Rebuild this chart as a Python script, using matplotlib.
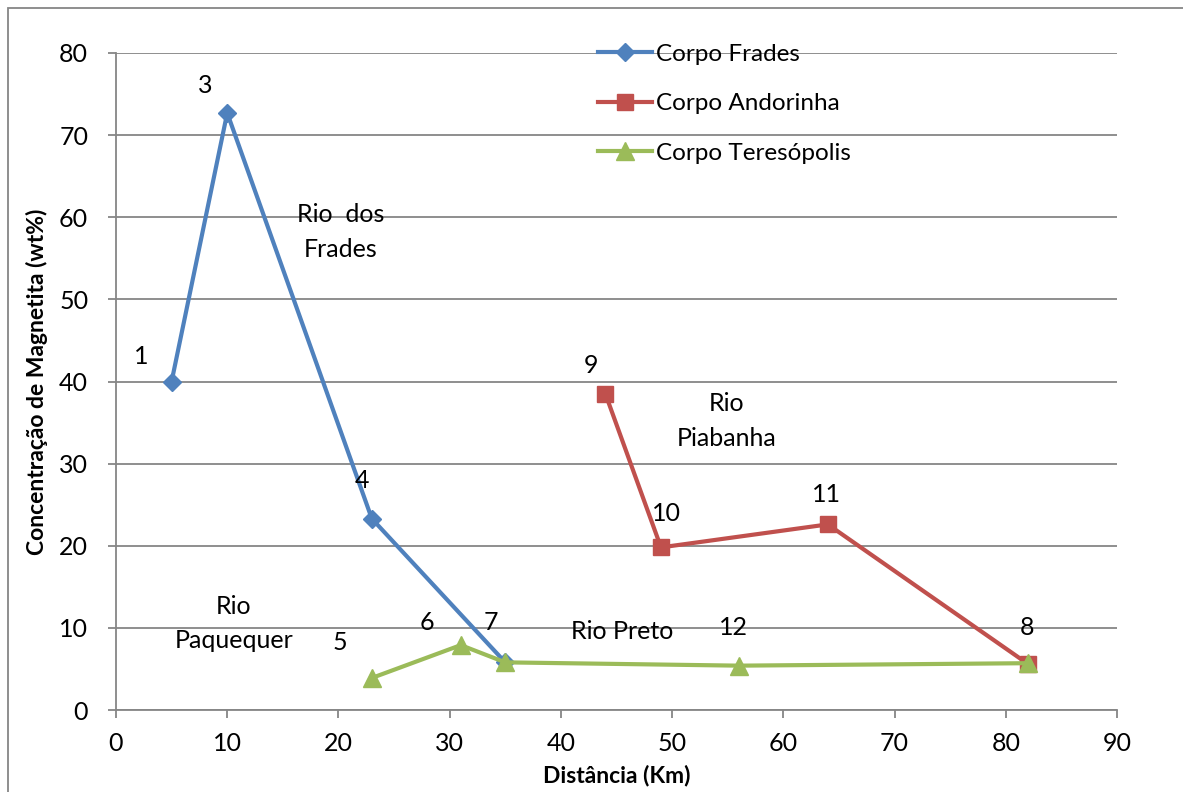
import matplotlib
matplotlib.use("Agg")
import matplotlib.pyplot as plt
from matplotlib.patches import Rectangle

plt.rcParams['font.family'] = ['Lato', 'DejaVu Sans']

frades_x = [5, 10, 23, 35]
frades_y = [40.0, 72.7, 23.3, 5.8]
andorinha_x = [44, 49, 64, 82]
andorinha_y = [38.5, 19.8, 22.6, 5.6]
teres_x = [23, 31, 35, 56, 82]
teres_y = [3.9, 7.9, 5.8, 5.4, 5.7]

point_labels = ["1", "3", "4", "5", "6", "7", "9", "10", "11", "12", "8"]
point_label_pos = [(2.25, 43.1), (8.0, 76.0), (22.1, 27.9), (20.1, 8.2), (27.95, 10.6),
                   (33.7, 10.6), (42.7, 42.0), (49.5, 23.9), (63.9, 26.3), (55.5, 10.1), (81.9, 10.1)]
river_labels = ["Rio  dos\nFrades", "Rio\nPiabanha", "Rio\nPaquequer", "Rio Preto"]
river_label_pos = [(20.2, 58.2), (54.9, 35.2), (10.6, 10.5), (45.5, 9.5)]

blue = '#4F81BD'
red = '#C0504D'
green = '#9BBB59'
gray = '#868686'

fig = plt.figure(figsize=(11.83, 7.92), dpi=100)
ax = fig.add_axes([116/1183, 1-710/792, (1117-116)/1183, (710-53)/792])

ax.plot(frades_x, frades_y, color=blue, lw=3, marker='D', ms=9, label='Corpo Frades', zorder=3)
ax.plot(andorinha_x, andorinha_y, color=red, lw=3, marker='s', ms=12, label='Corpo Andorinha', zorder=3)
ax.plot(teres_x, teres_y, color=green, lw=3, marker='^', ms=13, label='Corpo Teresópolis', zorder=4)

for t, (x, y) in zip(point_labels, point_label_pos):
    ax.text(x, y, t, fontsize=18, ha='center', va='center', color='black')
for t, (x, y) in zip(river_labels, river_label_pos):
    ax.text(x, y, t, fontsize=18, ha='center', va='center', color='black', linespacing=1.6)

ax.set_xlim(0, 90)
ax.set_ylim(0, 80)
ax.set_xticks(range(0, 91, 10))
ax.set_yticks(range(0, 81, 10))
ax.yaxis.grid(True, color=gray, lw=1.3)
ax.set_axisbelow(True)
for s in ['top', 'right']:
    ax.spines[s].set_visible(False)
for s in ['left', 'bottom']:
    ax.spines[s].set_color(gray)
    ax.spines[s].set_linewidth(1.3)
ax.tick_params(axis='both', direction='out', length=6, color=gray, width=1.3, labelsize=18)
ax.tick_params(axis='y', pad=14)
ax.tick_params(axis='x', pad=10)

ax.set_xlabel('Distância (Km)', fontsize=16.5, fontweight='bold', labelpad=7)
ax.set_ylabel('Concentração de Magnetita (wt%)', fontsize=16.5, fontweight='bold', labelpad=8)

leg = ax.legend(loc='upper left', bbox_to_anchor=((588-116)/1001, 1.029), frameon=False,
                fontsize=17.5, handlelength=2.23, handletextpad=0.15, labelspacing=1.17,
                borderaxespad=0)

fig.patches.append(Rectangle((8/1183, -0.1), 1.2, 1 - 8/792 + 0.1, transform=fig.transFigure,
                             fill=False, edgecolor=gray, lw=1.3))

fig.savefig('out.png', dpi=100)
